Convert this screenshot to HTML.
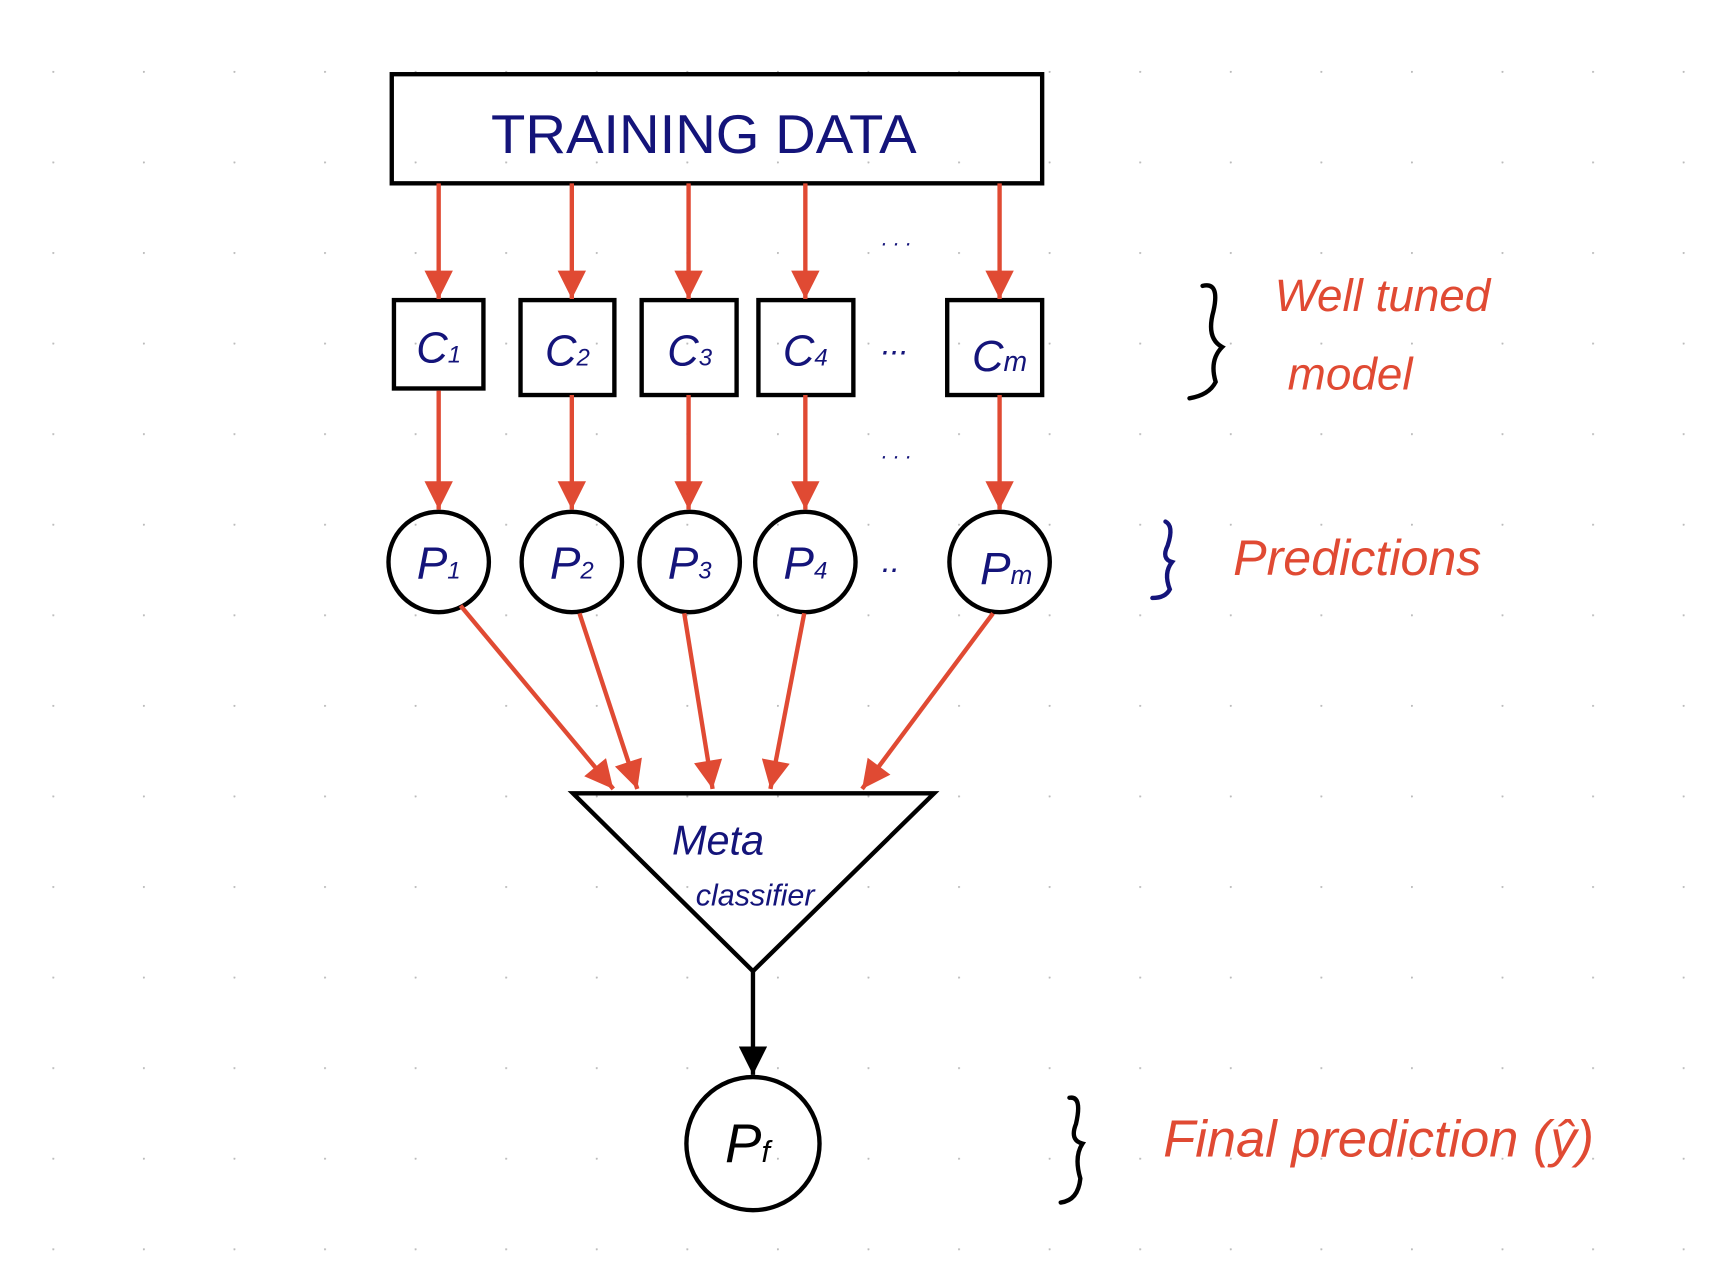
<!DOCTYPE html>
<html><head><style>html,body{margin:0;padding:0;background:#fff}svg{display:block}</style></head>
<body>
<svg width="1710" height="1268" viewBox="0 0 1567 1162" preserveAspectRatio="none" xmlns="http://www.w3.org/2000/svg">
<defs>
<pattern id="g" x="48" y="65" width="83" height="83" patternUnits="userSpaceOnUse"><circle cx="0.8" cy="0.8" r="1" fill="#bbb"/></pattern>
<marker id="ar" viewBox="0 0 10 10" refX="10" refY="5" markerWidth="7.5" markerHeight="6.5" markerUnits="strokeWidth" orient="auto"><path d="M0,0L10,5L0,10z" fill="#e04a33"/></marker>
<marker id="ab" viewBox="0 0 10 10" refX="10" refY="5" markerWidth="7" markerHeight="6.5" markerUnits="strokeWidth" orient="auto"><path d="M0,0L10,5L0,10z" fill="#000"/></marker>
</defs>
<rect x="0" y="0" width="1567" height="1162" fill="url(#g)"/>
<g fill="none" stroke="#000" stroke-width="4">
<rect x="359" y="68" width="596" height="100"/>
<rect x="361" y="275" width="82" height="81"/>
<rect x="477" y="275" width="86" height="87"/>
<rect x="588" y="275" width="87" height="87"/>
<rect x="695" y="275" width="87" height="87"/>
<rect x="868" y="275" width="87" height="87"/>
<circle cx="402" cy="515" r="46"/><circle cx="524" cy="515" r="46"/><circle cx="632" cy="515" r="46"/><circle cx="738" cy="515" r="46"/><circle cx="916" cy="515" r="46"/>
<path d="M525,727L856,727L690,890z"/>
<circle cx="690" cy="1048" r="61"/>
</g>
<g stroke="#e04a33" stroke-width="4" marker-end="url(#ar)">
<line x1="402" y1="168" x2="402" y2="274"/><line x1="524" y1="168" x2="524" y2="274"/><line x1="631" y1="168" x2="631" y2="274"/><line x1="738" y1="168" x2="738" y2="274"/><line x1="916" y1="168" x2="916" y2="274"/>
<line x1="402" y1="358" x2="402" y2="467"/><line x1="524" y1="362" x2="524" y2="467"/><line x1="631" y1="362" x2="631" y2="467"/><line x1="738" y1="362" x2="738" y2="467"/><line x1="916" y1="362" x2="916" y2="467"/>
<line x1="422" y1="555" x2="562" y2="723"/><line x1="531" y1="562" x2="584" y2="723"/><line x1="627" y1="562" x2="653" y2="723"/><line x1="737" y1="562" x2="706" y2="723"/><line x1="910" y1="562" x2="790" y2="723"/>
</g>
<line x1="690" y1="890" x2="690" y2="985" stroke="#000" stroke-width="4" marker-end="url(#ab)"/>
<g font-family="Liberation Sans, sans-serif" fill="#14147a" font-style="italic">
<text x="645" y="140" font-size="50" text-anchor="middle" font-style="normal" textLength="390" lengthAdjust="spacingAndGlyphs">TRAINING DATA</text>
<text x="402" y="332" font-size="40" text-anchor="middle">C<tspan font-size="22">1</tspan></text>
<text x="520" y="335" font-size="40" text-anchor="middle">C<tspan font-size="22">2</tspan></text>
<text x="632" y="335" font-size="40" text-anchor="middle">C<tspan font-size="22">3</tspan></text>
<text x="738" y="335" font-size="40" text-anchor="middle">C<tspan font-size="22">4</tspan></text>
<text x="916" y="340" font-size="40" text-anchor="middle">C<tspan font-size="26">m</tspan></text>
<text x="402" y="530" font-size="42" text-anchor="middle">P<tspan font-size="22">1</tspan></text>
<text x="524" y="530" font-size="42" text-anchor="middle">P<tspan font-size="22">2</tspan></text>
<text x="632" y="530" font-size="42" text-anchor="middle">P<tspan font-size="22">3</tspan></text>
<text x="738" y="530" font-size="42" text-anchor="middle">P<tspan font-size="22">4</tspan></text>
<text x="922" y="535" font-size="42" text-anchor="middle">P<tspan font-size="24">m</tspan></text>
<text x="658" y="783" font-size="38" text-anchor="middle">Meta</text>
<text x="692" y="830" font-size="28" text-anchor="middle">classifier</text>
<text x="808" y="325" font-size="30">...</text><text x="808" y="524" font-size="30">..</text>
<text x="808" y="225" font-size="20">. .  .</text><text x="808" y="420" font-size="20">. .  .</text>
<text x="685" y="1065" font-size="50" text-anchor="middle" fill="#000">P<tspan font-size="28">f</tspan></text>
</g>
<g font-family="Liberation Sans, sans-serif" fill="#e04a33" font-style="italic">
<text x="1168" y="285" font-size="42">Well tuned</text>
<text x="1180" y="357" font-size="42">model</text>
<text x="1130" y="527" font-size="46">Predictions</text>
<text x="1066" y="1060" font-size="48">Final prediction (ŷ)</text>
</g>
<g fill="none" stroke-width="4" stroke-linecap="round">
<path d="M1102,262 Q1118,258 1112,285 Q1105,310 1120,318 Q1108,330 1114,350 Q1108,362 1090,365" stroke="#000"/>
<path d="M1068,478 Q1076,482 1070,500 Q1064,512 1074,515 Q1066,525 1072,540 Q1068,548 1056,548" stroke="#14147a"/>
<path d="M980,1006 Q992,1004 986,1030 Q980,1045 992,1048 Q984,1060 990,1080 Q988,1100 972,1102" stroke="#000"/>
</g>
</svg>
</body></html>
